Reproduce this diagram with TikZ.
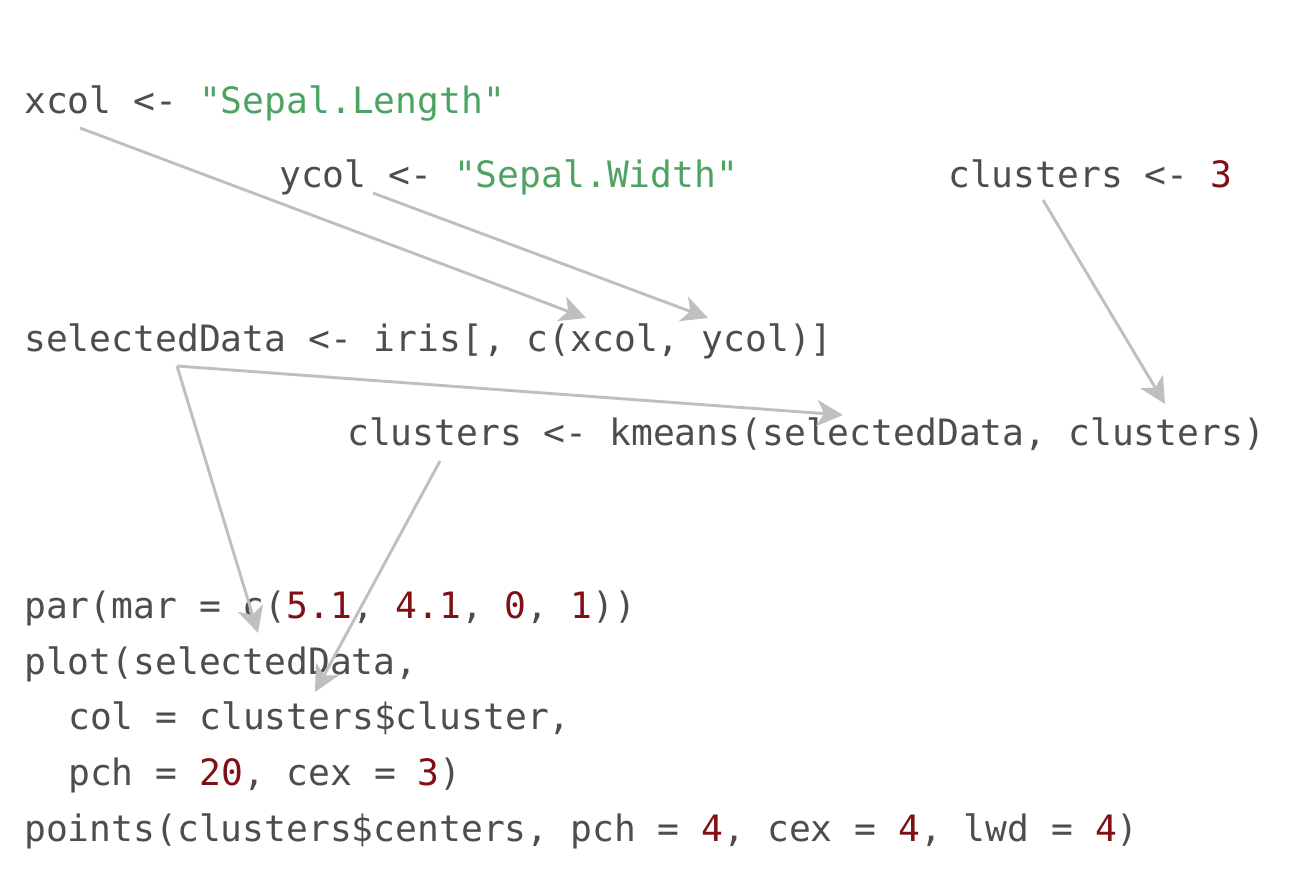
\documentclass[tikz,border=0pt]{standalone}
\usepackage{fontspec}
\setmonofont{DejaVu Sans Mono}
\usetikzlibrary{arrows.meta}
\definecolor{codegray}{HTML}{4D4D4D}
\definecolor{strgreen}{HTML}{4DA462}
\definecolor{numred}{HTML}{7F1015}
\definecolor{arrgray}{HTML}{BFBFC1}
\newcommand{\str}[1]{\textcolor{strgreen}{#1}}
\newcommand{\num}[1]{\textcolor{numred}{#1}}
\frenchspacing
\begin{document}
\begin{tikzpicture}[x=1pt,y=-1pt,
  code/.style={anchor=base west, inner sep=0pt, font=\ttfamily\fontsize{36.3}{40}\selectfont, text=codegray},
  link/.style={draw=arrgray, line width=2.9pt, -{Stealth[length=26pt,width=26pt,inset=7pt]}}]
\useasboundingbox[fill=white] (0,0) rectangle (1310,886);
% code lines
\node[code] (xcol) at (24,113) {xcol <- \str{"Sepal.Length"}};
\node[code] (ycol) at (279,187) {ycol <- \str{"Sepal.Width"}};
\node[code] (k) at (948,187) {clusters <- \num{3}};
\node[code] (sel) at (24,351) {selectedData <- iris[, c(xcol, ycol)]};
\node[code] (km) at (347,445) {clusters <- kmeans(selectedData, clusters)};
\node[code] (par) at (24,618) {par(mar = c(\num{5.1}, \num{4.1}, \num{0}, \num{1}))};
\node[code] (plot) at (24,674) {plot(selectedData,};
\node[code] (col) at (68,729) {col = clusters\$cluster,};
\node[code] (pch) at (68,785) {pch = \num{20}, cex = \num{3})};
\node[code] (pts) at (24,841) {points(clusters\$centers, pch = \num{4}, cex = \num{4}, lwd = \num{4})};
% connector ends
\coordinate (xs) at (80,128);
\coordinate (xe) at (586,318);
\coordinate (ys) at (373,193);
\coordinate (ye) at (708,318);
\coordinate (ks) at (1043,200);
\coordinate (ke) at (1165,404);
\coordinate (ss) at (177,366);
\coordinate (se) at (843,415);
\coordinate (sp) at (258,633);
\coordinate (cs) at (440,461);
\coordinate (ce) at (315,692);
% connectors
\draw[link] (xs) -- (xe);
\draw[link] (ys) -- (ye);
\draw[link] (ks) -- (ke);
\draw[link] (ss) -- (se);
\draw[link] (ss) -- (sp);
\draw[link] (cs) -- (ce);
\end{tikzpicture}
\end{document}
